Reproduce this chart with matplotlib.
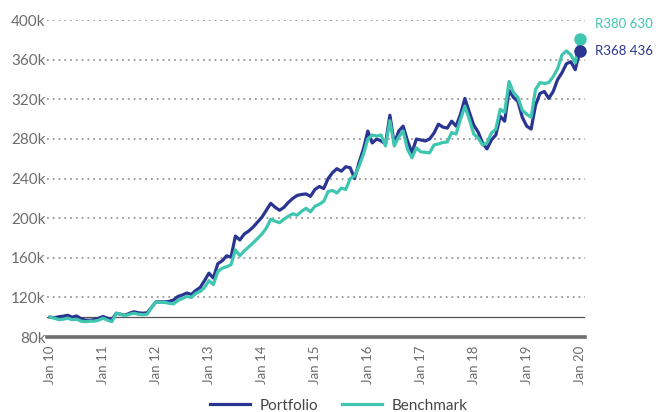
import matplotlib
matplotlib.use('Agg')

import matplotlib.pyplot as plt
import numpy as np
import pandas as pd

# Monthly values (R '000), Jan 2010 - Jan 2020
portfolio = [
    100, 99.5, 100.5, 101, 102, 100, 101.3, 98.5, 97, 97, 97.5, 99,
    100.7, 99, 97.5, 104, 103, 102, 104, 105.5, 104.5, 104, 104.5, 110,
    115.5, 115.5, 115.5, 116, 117.5, 121, 122.5, 124.5, 123, 127, 130, 137,
    144.5, 139.5, 154, 157, 162, 160.7, 182, 178, 184, 187, 191, 196,
    201, 208, 215, 211, 208, 211, 216, 220, 223, 224, 224.5, 222,
    229, 232, 230, 240, 246, 250, 247.5, 252, 251, 240, 256, 270,
    288, 276, 280, 278, 275, 304, 275, 288, 293, 278, 266, 280,
    279, 278, 280, 286, 295, 292, 291, 298, 293, 305, 321, 307,
    294, 287, 276, 270, 279, 284, 303, 298, 329, 322, 318, 302,
    293, 290, 314, 326, 328, 321, 328, 340, 347, 356, 358, 350,
    368.436,
]
benchmark = [
    100, 99, 97.5, 98, 99, 97.5, 98, 96, 95.5, 96, 96, 97,
    99, 97, 95.5, 104, 103, 101.5, 103, 104, 103, 102.5, 103, 110,
    115.5, 115, 115, 114, 113.5, 117, 119, 121, 120, 124, 126, 130,
    137, 133, 146, 149.5, 151, 153, 168, 162, 167, 171, 175, 179.5,
    184, 190, 199, 197, 195.5, 199, 202, 204.5, 203, 207, 210, 206.5,
    212, 214, 217, 227, 228, 225.5, 230.5, 229, 240, 242.5, 252.5, 264.5,
    280, 284, 283, 284, 273, 298.5, 273, 282, 288, 269.5, 261, 271,
    267, 266.5, 266, 274, 275, 276.5, 277, 286.5, 285, 300, 313, 300,
    285, 281, 274, 276, 286, 290, 310, 307, 338, 327, 322, 309,
    305, 302, 330, 337, 336, 337, 343, 351, 365, 369, 365, 357,
    380.630,
]
end_labels = ['R380 630', 'R368 436']
y_ticks = [80, 120, 160, 200, 240, 280, 320, 360, 400]

NAVY = '#2a3592'
TEAL = '#3fc6b0'
GREY = '#6d6d6d'

dates = pd.date_range('2010-01-01', periods=len(portfolio), freq='MS')
x = np.arange(len(portfolio))

plt.rcParams['font.family'] = ['Lato', 'DejaVu Sans']

fig = plt.figure(figsize=(6.58, 4.12), dpi=100)
ax = fig.add_axes([0.0714, 0.182, 0.8176, 0.769])

# Gridlines and reference lines
for t in y_ticks[1:]:
    ax.axhline(t, color='#9a9a9a', linestyle=(0, (1, 2.2)), linewidth=1.3, zorder=1)
ax.axhline(100, color='#555555', linewidth=0.9, zorder=1)
ax.axhline(80, color=GREY, linewidth=2.6, zorder=1, clip_on=False)

ax.plot(x, portfolio, color=NAVY, linewidth=2.3, label='Portfolio', zorder=3,
        solid_joinstyle='round')
ax.plot(x, benchmark, color=TEAL, linewidth=2.3, label='Benchmark', zorder=4,
        solid_joinstyle='round')

# End markers and labels
ax.plot(x[-1], benchmark[-1], 'o', color=TEAL, markersize=8, zorder=5, clip_on=False)
ax.plot(x[-1], portfolio[-1], 'o', color=NAVY, markersize=8, zorder=6, clip_on=False)
ax.annotate(end_labels[0], (x[-1], benchmark[-1]), xytext=(11, 11),
            textcoords='offset points', color=TEAL, fontsize=9.5,
            va='center', ha='left', annotation_clip=False)
ax.annotate(end_labels[1], (x[-1], portfolio[-1]), xytext=(11, 0),
            textcoords='offset points', color=NAVY, fontsize=9.5,
            va='center', ha='left', annotation_clip=False)

ax.set_xlim(-0.7, 121.2)
ax.set_ylim(80, 400)
ax.set_yticks(y_ticks)
ax.set_yticklabels([f'{t}k' for t in y_ticks])
xt = [i for i, d in enumerate(dates) if d.month == 1]
ax.set_xticks(xt)
ax.set_xticklabels([f"Jan {dates[i].strftime('%y')}" for i in xt], rotation=90)

ax.tick_params(axis='both', length=0, colors=GREY, labelsize=11)
ax.tick_params(axis='y', pad=1)
ax.tick_params(axis='x', pad=6, labelsize=9.5)
for s in ax.spines.values():
    s.set_visible(False)

leg = fig.legend(loc='lower center', bbox_to_anchor=(0.515, -0.035), ncol=2,
                 frameon=False, fontsize=11, handlelength=2.6,
                 columnspacing=1.6, handletextpad=0.6)
for txt in leg.get_texts():
    txt.set_color('#444444')

fig.savefig('out.png', dpi=100)
